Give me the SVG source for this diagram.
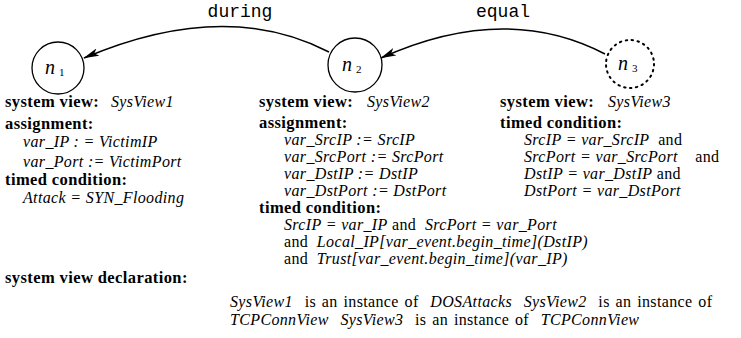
<svg xmlns="http://www.w3.org/2000/svg" width="741" height="338" viewBox="0 0 741 338">
<style>
text{font-family:"Liberation Serif","Times New Roman",serif;font-size:16px;fill:#000;white-space:pre;letter-spacing:0.35px}
.b{font-weight:bold;font-size:16.5px;letter-spacing:0.4px}
.i{font-style:italic}
.m{font-family:"Liberation Mono","Courier New",monospace;font-size:18px;letter-spacing:0}
.nl{font-size:20px;font-style:italic;letter-spacing:0}
.sub{font-size:11px;font-style:normal}
.node{fill:#fff;stroke:#000;stroke-width:1.3}
.dot{fill:#fff;stroke:#000;stroke-width:2;stroke-dasharray:1.5 4.5;stroke-linecap:round}
.edge{fill:none;stroke:#000;stroke-width:1.5}
.w{word-spacing:1.5px}
</style>
<defs>
<marker id="ah" viewBox="0 0 20 10" refX="19" refY="5" markerWidth="16" markerHeight="8" markerUnits="userSpaceOnUse" orient="auto">
<path d="M0,0 L20,5 L0,10 L5,5 Z" fill="#000"/>
</marker>
</defs>
<g id="connectors">
<path class="edge" d="M329,52 Q225,-2 84,58" marker-end="url(#ah)"/>
<text class="m" x="240" y="17" text-anchor="middle">during</text>
<path class="edge" d="M605,54 Q505,2 381,58" marker-end="url(#ah)"/>
<text class="m" x="503" y="17" text-anchor="middle">equal</text>
</g>
<g id="n1">
<circle class="node" cx="58" cy="68" r="26"/>
<text class="nl" x="45" y="74">n<tspan class="sub" dx="4" dy="2">1</tspan></text>
<text class="b" x="5" y="107">system view:</text>
<text class="i" x="111" y="107">SysView1</text>
<text class="b" x="5" y="129">assignment:</text>
<text class="i" x="23" y="147">var_IP : = VictimIP</text>
<text class="i" x="23" y="167">var_Port := VictimPort</text>
<text class="b" x="5" y="185">timed condition:</text>
<text class="i" x="23" y="203">Attack = SYN_Flooding</text>
</g>
<g id="n2">
<circle class="node" cx="355" cy="65" r="27"/>
<text class="nl" x="342" y="71">n<tspan class="sub" dx="4" dy="2">2</tspan></text>
<text class="b" x="259" y="107">system view:</text>
<text class="i" x="367" y="107">SysView2</text>
<text class="b" x="259" y="128">assignment:</text>
<text class="i" x="284" y="145">var_SrcIP := SrcIP</text>
<text class="i" x="284" y="162">var_SrcPort := SrcPort</text>
<text class="i" x="284" y="179">var_DstIP := DstIP</text>
<text class="i" x="284" y="196">var_DstPort := DstPort</text>
<text class="b" x="259" y="213">timed condition:</text>
<text x="284" y="230"><tspan class="i">SrcIP = var_IP</tspan> and  <tspan class="i">SrcPort = var_Port</tspan></text>
<text x="284" y="247">and  <tspan class="i">Local_IP[var_event.begin_time](DstIP)</tspan></text>
<text x="284" y="264">and  <tspan class="i">Trust[var_event.begin_time](var_IP)</tspan></text>
</g>
<g id="n3">
<circle class="dot" cx="630" cy="64" r="24"/>
<text class="nl" x="618" y="70">n<tspan class="sub" dx="4" dy="2">3</tspan></text>
<text class="b" x="500" y="107">system view:</text>
<text class="i" x="608" y="107">SysView3</text>
<text class="b" x="500" y="128">timed condition:</text>
<text x="524" y="145"><tspan class="i">SrcIP = var_SrcIP</tspan>  and</text>
<text x="524" y="162"><tspan class="i">SrcPort = var_SrcPort</tspan>    and</text>
<text x="524" y="179"><tspan class="i">DstIP = var_DstIP</tspan> and</text>
<text x="524" y="196" class="i">DstPort = var_DstPort</text>
</g>
<g id="declaration">
<text class="b" x="5" y="283">system view declaration:</text>
<text class="w" x="230" y="307"><tspan class="i">SysView1</tspan>  is an instance of  <tspan class="i">DOSAttacks</tspan>  <tspan class="i">SysView2</tspan>  is an instance of</text>
<text class="w" x="230" y="325"><tspan class="i">TCPConnView</tspan>  <tspan class="i">SysView3</tspan>  is an instance of  <tspan class="i">TCPConnView</tspan></text>
</g>
</svg>
